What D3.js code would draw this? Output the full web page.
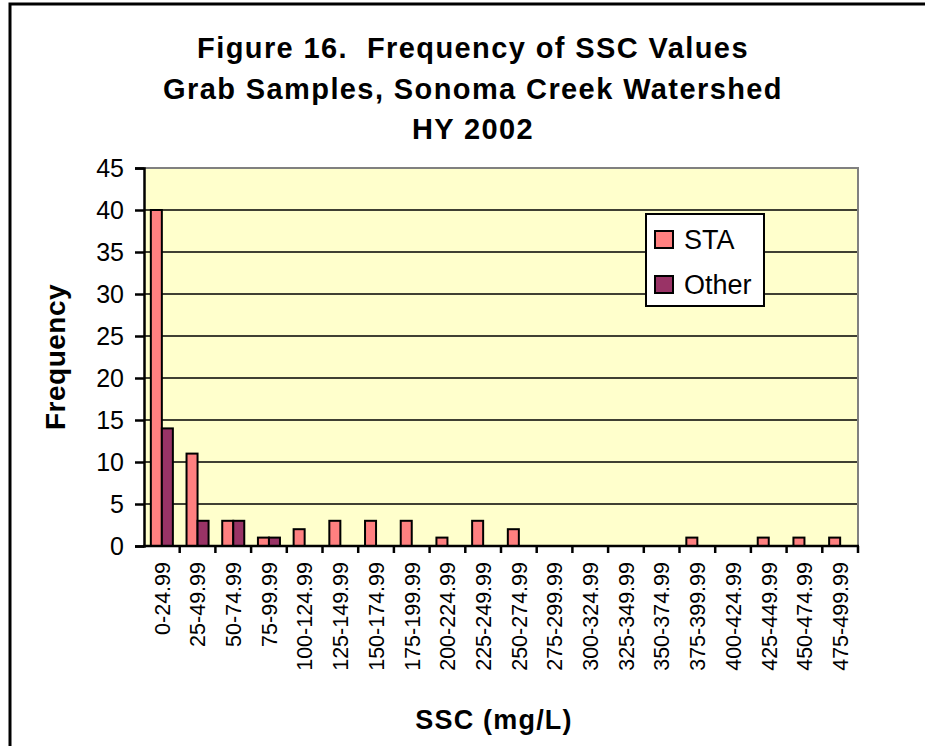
<!DOCTYPE html>
<html>
<head>
<meta charset="utf-8">
<script src="https://cdn.jsdelivr.net/npm/d3@7"></script>
<style>
  body { margin: 0; background: #fff; }
  svg { display: block; font-family: "Liberation Sans", Arial, sans-serif; }
</style>
</head>
<body>
<script>
// data
var categories = ["0-24.99", "25-49.99", "50-74.99", "75-99.99", "100-124.99", "125-149.99",
  "150-174.99", "175-199.99", "200-224.99", "225-249.99", "250-274.99", "275-299.99",
  "300-324.99", "325-349.99", "350-374.99", "375-399.99", "400-424.99", "425-449.99",
  "450-474.99", "475-499.99"];
var staValues = [40, 11, 3, 1, 2, 3, 3, 3, 1, 3, 2, 0, 0, 0, 0, 1, 0, 1, 1, 1];
var otherValues = [14, 3, 3, 1, 0, 0, 0, 0, 0, 0, 0, 0, 0, 0, 0, 0, 0, 0, 0, 0];
var seriesNames = ["STA", "Other"];
var seriesColors = ["#FF8080", "#993366"];
var yTicks = [0, 5, 10, 15, 20, 25, 30, 35, 40, 45];
var titleLines = ["Figure 16.  Frequency of SSC Values", "Grab Samples, Sonoma Creek Watershed", "HY 2002"];

var width = 925, height = 746;
var plot = { left: 144, right: 858, top: 168, bottom: 546 };

var svg = d3.select("body")
  .append("svg")
  .attr("width", width)
  .attr("height", height);

// outer frame (runs off the right and bottom edges)
svg.append("rect")
  .attr("x", 10).attr("y", 4)
  .attr("width", 940).attr("height", 760)
  .attr("fill", "#fff")
  .attr("stroke", "#000")
  .attr("stroke-width", 3);

// scales
var x0 = d3.scaleBand()
  .domain(categories)
  .range([plot.left, plot.right])
  .padding(0);

var x1 = d3.scaleBand()
  .domain(seriesNames)
  .range([0, x0.bandwidth()])
  .paddingInner(0)
  .paddingOuter(0.62);

var y = d3.scaleLinear()
  .domain([0, 45])
  .range([plot.bottom, plot.top]);

// plot background
svg.append("rect")
  .attr("x", plot.left).attr("y", plot.top)
  .attr("width", plot.right - plot.left)
  .attr("height", plot.bottom - plot.top)
  .attr("fill", "#FFFFCC");

// gridlines
svg.append("g")
  .selectAll("line")
  .data(yTicks.filter(function(d) { return d > 0 && d < 45; }))
  .enter()
  .append("line")
  .attr("x1", plot.left).attr("x2", plot.right)
  .attr("y1", function(d) { return y(d); })
  .attr("y2", function(d) { return y(d); })
  .attr("stroke", "#000")
  .attr("stroke-width", 1.5);

// plot border (grey top / right)
svg.append("path")
  .attr("d", "M" + plot.left + "," + plot.top + "H" + plot.right + "V" + plot.bottom)
  .attr("fill", "none")
  .attr("stroke", "#808080")
  .attr("stroke-width", 2);

// bars
var table = categories.map(function(c, i) {
  return { cat: c, values: [staValues[i], otherValues[i]] };
});

var groups = svg.append("g")
  .selectAll("g")
  .data(table)
  .enter()
  .append("g")
  .attr("transform", function(d) { return "translate(" + x0(d.cat) + ",0)"; });

groups.selectAll("rect")
  .data(function(d) {
    return seriesNames.map(function(s, j) { return { name: s, value: d.values[j], color: seriesColors[j] }; });
  })
  .enter()
  .filter(function(d) { return d.value > 0; })
  .append("rect")
  .attr("x", function(d) { return x1(d.name); })
  .attr("width", x1.bandwidth())
  .attr("y", function(d) { return y(d.value); })
  .attr("height", function(d) { return y(0) - y(d.value); })
  .attr("fill", function(d) { return d.color; })
  .attr("stroke", "#000")
  .attr("stroke-width", 2);

// y axis
var yaxis = d3.axisLeft(y)
  .tickValues(yTicks)
  .tickSize(9)
  .tickPadding(11);

svg.append("g")
  .attr("transform", "translate(" + plot.left + ",0)")
  .call(yaxis)
  .call(function(g) {
    g.select(".domain").attr("stroke", "#000").attr("stroke-width", 2.5);
    g.selectAll(".tick line").attr("stroke", "#000").attr("stroke-width", 2.5);
    g.selectAll(".tick text")
      .attr("fill", "#000")
      .style("font-size", "25px")
      .style("font-family", "'Liberation Sans', Arial, sans-serif");
  });

// x axis: labels at category centres, ticks at category boundaries
var xaxis = d3.axisBottom(x0).tickSize(0).tickPadding(0);

svg.append("g")
  .attr("transform", "translate(0," + plot.bottom + ")")
  .call(xaxis)
  .call(function(g) {
    g.select(".domain").remove();
    g.selectAll(".tick text")
      .attr("fill", "#000")
      .attr("transform", "rotate(-90)")
      .attr("x", -16)
      .attr("y", 0)
      .attr("dy", "0.36em")
      .style("text-anchor", "end")
      .style("font-size", "21.5px")
      .style("font-family", "'Liberation Sans', Arial, sans-serif");
  });

svg.append("g")
  .selectAll("line")
  .data(categories.slice(1).concat(["end"]))
  .enter()
  .append("line")
  .attr("x1", function(d) { return d === "end" ? plot.right : x0(d); })
  .attr("x2", function(d) { return d === "end" ? plot.right : x0(d); })
  .attr("y1", plot.bottom)
  .attr("y2", plot.bottom + 7)
  .attr("stroke", "#000")
  .attr("stroke-width", 2.5);

svg.append("line")
  .attr("x1", plot.left - 1).attr("x2", plot.right + 1)
  .attr("y1", plot.bottom).attr("y2", plot.bottom)
  .attr("stroke", "#000")
  .attr("stroke-width", 2.5);

// title
svg.append("g")
  .selectAll("text")
  .data(titleLines)
  .enter()
  .append("text")
  .attr("x", 473)
  .attr("y", function(d, i) { return 58 + i * 40.5; })
  .attr("text-anchor", "middle")
  .style("font-size", "29px")
  .style("font-weight", "bold")
  .style("letter-spacing", "1.4px")
  .style("white-space", "pre")
  .text(function(d) { return d; });

// axis titles
svg.append("text")
  .attr("transform", "translate(65,357) rotate(-90)")
  .attr("text-anchor", "middle")
  .style("font-size", "28px")
  .style("font-weight", "bold")
  .style("letter-spacing", "0.5px")
  .text("Frequency");

svg.append("text")
  .attr("x", 494)
  .attr("y", 729)
  .attr("text-anchor", "middle")
  .style("font-size", "27px")
  .style("font-weight", "bold")
  .style("letter-spacing", "1.2px")
  .text("SSC (mg/L)");

// legend
var legend = svg.append("g").attr("transform", "translate(646,214)");

legend.append("rect")
  .attr("width", 118).attr("height", 92)
  .attr("fill", "#fff")
  .attr("stroke", "#000")
  .attr("stroke-width", 2);

var items = legend.selectAll(".item")
  .data(seriesNames)
  .enter()
  .append("g")
  .attr("class", "item")
  .attr("transform", function(d, i) { return "translate(0," + (i * 45) + ")"; });

items.append("rect")
  .attr("x", 9).attr("y", 17)
  .attr("width", 18).attr("height", 17)
  .attr("fill", function(d, i) { return seriesColors[i]; })
  .attr("stroke", "#000")
  .attr("stroke-width", 2);

items.append("text")
  .attr("x", 38).attr("y", 35)
  .style("font-size", "27px")
  .text(function(d) { return d; });
</script>
</body>
</html>
